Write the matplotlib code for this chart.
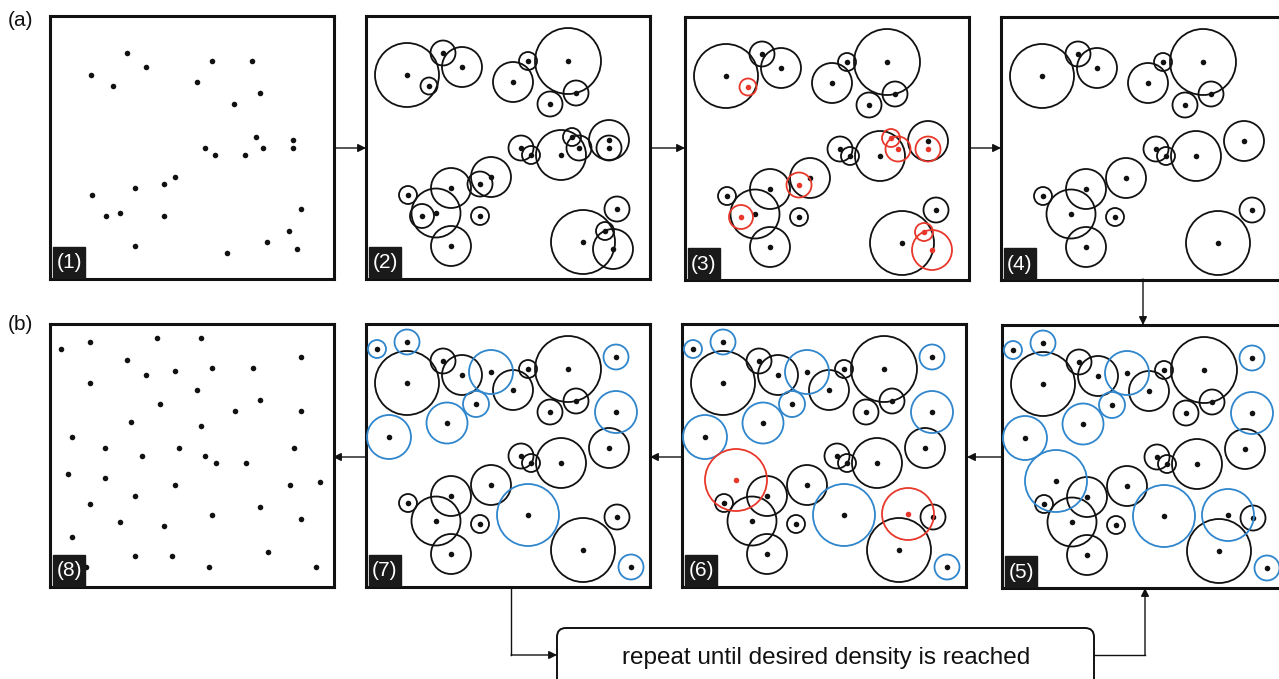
import matplotlib
matplotlib.use('Agg')
import matplotlib.pyplot as plt
from matplotlib.patches import Circle, Rectangle, FancyBboxPatch

plt.rcParams['font.family'] = ['Liberation Sans', 'DejaVu Sans']

W, H = 1279, 679
PW, PH = 284, 263

BLACK = '#111111'
RED = '#e8382b'
BLUE = '#2f86cc'

# first pass: disk centres and radii, in panel pixels (origin top-left)
base_x = [41, 77, 96, 63, 147, 162, 202, 210, 184, 155, 165, 195, 206, 213,
          243, 243, 42, 85, 70, 56, 85, 114, 125, 114, 217, 251, 239, 247]
base_y = [59, 37, 51, 70, 66, 45, 45, 77, 88, 132, 139, 139, 121, 132,
          124, 132, 179, 172, 197, 200, 230, 168, 161, 200, 226, 193, 215, 233]
base_r = [32, 12.5, 20, 8.5, 20, 9, 33, 12.5, 12.5, 12.5, 9, 25, 9, 12.5,
          20, 12.5, 9, 20, 24.5, 12, 20, 12.5, 20, 9, 32, 12.5, 9, 20]
# disks that conflict after the first pass
removed_first = [3, 12, 13, 15, 19, 21, 26, 27]

# a stray sample that never got a disk
stray_x = [177]
stray_y = [237]

# second pass: new disks
new_x = [11, 41, 125, 110, 81, 23, 250, 250, 54, 162, 226, 265]
new_y = [25, 18, 48, 80, 99, 113, 33, 88, 156, 191, 190, 243]
new_r = [9, 12.5, 22, 13, 20.5, 22, 12.5, 21, 31, 31, 26, 12.5]
removed_second = [8, 10]

# final sample set
final_x = [10.7, 40, 106.7, 151, 251, 77, 95.7, 125.3, 162, 203, 40, 147.3,
           110.3, 210.3, 184.7, 251, 81, 151, 21.7, 55, 92, 129, 155, 166,
           195.7, 243.7, 18, 55, 125.3, 240, 269.7, 85, 40, 210.3, 162.3,
           69.7, 114, 251.3, 21.7, 85, 121.7, 217.7, 36.3, 158.7, 266]
final_y = [25.3, 17.7, 14, 14, 32.7, 36.3, 51, 47.3, 44, 44, 58.7, 66,
           79.7, 76, 87, 87, 98.3, 102, 113, 124, 131.7, 124, 131.7, 139,
           139, 124, 150, 153.7, 161.3, 161.3, 157.7, 172.3, 179.7, 183.3,
           190.7, 198.3, 202, 194.7, 213, 231.7, 231.7, 228, 242.7, 242.7,
           242.7]

panel_names = ['(1)', '(2)', '(3)', '(4)', '(5)', '(6)', '(7)', '(8)']
panel_left = [50, 366, 685, 1001, 1002, 682, 366, 50]
panel_top = [16, 16, 17, 17, 325, 324, 324, 324]

fig = plt.figure(figsize=(W / 100, H / 100), dpi=100)


def make_panel(i):
    ax = fig.add_axes([panel_left[i] / W, 1 - (panel_top[i] + PH) / H, PW / W, PH / H])
    ax.set_xlim(0, PW)
    ax.set_ylim(PH, 0)
    ax.set_xticks([])
    ax.set_yticks([])
    for s in ax.spines.values():
        s.set_linewidth(2.2)
        s.set_color(BLACK)
    ax.add_patch(Rectangle((3, 231), 32, 32, color='#1a1a1a', zorder=10))
    ax.text(19, 247, panel_names[i], color='white', fontsize=15,
            ha='center', va='center', zorder=11)
    return ax


def disks(ax, xs, ys, rs, idx, color, dot_color=BLACK, z=3):
    for k in idx:
        ax.add_patch(Circle((xs[k], ys[k]), rs[k], fill=False, ec=color, lw=1.3, zorder=z))
        ax.plot(xs[k], ys[k], 'o', color=dot_color, ms=4, mec='none', zorder=z + 1)


def dots(ax, xs, ys):
    ax.plot(xs, ys, 'o', color=BLACK, ms=4, mec='none', ls='')


all_base = list(range(len(base_x)))
kept_base = [k for k in all_base if k not in removed_first]
all_new = list(range(len(new_x)))
kept_new = [k for k in all_new if k not in removed_second]

# (1) initial samples
ax = make_panel(0)
dots(ax, base_x + stray_x, base_y + stray_y)

# (2) disks around every sample
ax = make_panel(1)
disks(ax, base_x, base_y, base_r, all_base, BLACK)

# (3) conflicting disks marked
ax = make_panel(2)
disks(ax, base_x, base_y, base_r, kept_base, BLACK)
disks(ax, base_x, base_y, base_r, removed_first, RED, RED, z=5)

# (4) conflicts removed
ax = make_panel(3)
disks(ax, base_x, base_y, base_r, kept_base, BLACK)

# (5) new disks added
ax = make_panel(4)
disks(ax, base_x, base_y, base_r, kept_base, BLACK)
disks(ax, new_x, new_y, new_r, all_new, BLUE, z=5)

# (6) conflicting new disks marked
ax = make_panel(5)
disks(ax, base_x, base_y, base_r, kept_base, BLACK)
disks(ax, new_x, new_y, new_r, kept_new, BLUE, z=5)
disks(ax, new_x, new_y, new_r, removed_second, RED, RED, z=7)

# (7) conflicts removed
ax = make_panel(6)
disks(ax, base_x, base_y, base_r, kept_base, BLACK)
disks(ax, new_x, new_y, new_r, kept_new, BLUE, z=5)

# (8) final samples
ax = make_panel(7)
dots(ax, final_x, final_y)

# overlay in figure pixels for arrows and captions
ov = fig.add_axes([0, 0, 1, 1], zorder=20)
ov.set_xlim(0, W)
ov.set_ylim(H, 0)
ov.axis('off')
ov.patch.set_alpha(0)


def arrow(x0, y0, x1, y1):
    ov.annotate('', xy=(x1, y1), xytext=(x0, y0),
                arrowprops=dict(arrowstyle='-|>', color=BLACK, lw=1.0,
                                mutation_scale=12, shrinkA=0, shrinkB=0))


arrow(334, 148, 366, 148)
arrow(650, 148, 685, 148)
arrow(969, 148, 1001, 148)
arrow(1143, 279, 1143, 325)
arrow(1002, 457, 967, 457)
arrow(682, 457, 650, 457)
arrow(366, 457, 333, 457)

ov.plot([511, 511], [589, 655], color=BLACK, lw=1.0)
arrow(511, 655, 557, 655)
ov.plot([1094, 1145], [655, 655], color=BLACK, lw=1.0)
arrow(1145, 655, 1145, 588)

ov.add_patch(FancyBboxPatch((557, 628), 537, 70,
                            boxstyle='round,pad=0,rounding_size=9',
                            fc='white', ec=BLACK, lw=1.4))
ov.text(826, 658, 'repeat until desired density is reached', fontsize=17.5,
        ha='center', va='center', color=BLACK)

ov.text(8, 20, '(a)', fontsize=15, ha='left', va='center', color=BLACK)
ov.text(8, 325, '(b)', fontsize=15, ha='left', va='center', color=BLACK)

fig.savefig('out.png', dpi=100)
